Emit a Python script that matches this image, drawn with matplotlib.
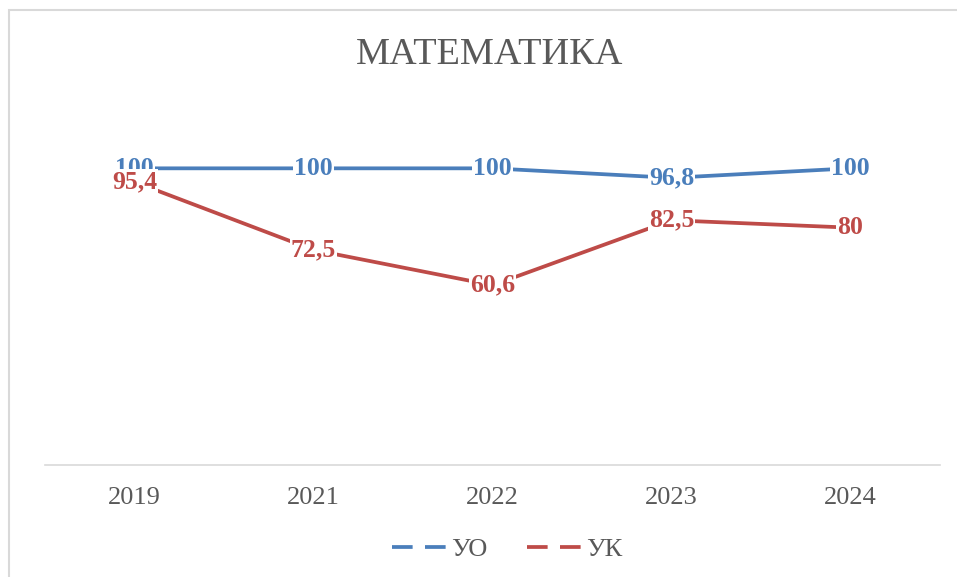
import matplotlib.pyplot as plt
from matplotlib.lines import Line2D
from matplotlib.patches import Rectangle

# data
years = ['2019', '2021', '2022', '2023', '2024']
uo = [100, 100, 100, 96.8, 100]
uk = [95.4, 72.5, 60.6, 82.5, 80]
uo_labels = ['100', '100', '100', '96,8', '100']
uk_labels = ['95,4', '72,5', '60,6', '82,5', '80']

blue = '#4A7EBB'
red = '#BE4B48'
grey = '#595959'

plt.rcParams['font.family'] = ['Liberation Serif', 'DejaVu Serif']

fig = plt.figure(figsize=(9.57, 5.77), dpi=100)
# the chart frame (only top and left edges show in the crop)
fig.patches.append(Rectangle((9 / 957, -0.05), 1.1, 1 - 10 / 577 + 0.05,
                             transform=fig.transFigure, fill=False,
                             edgecolor='#D9D9D9', linewidth=1.5))

ax = fig.add_axes([45 / 957, (577 - 465) / 577, (940 - 45) / 957, (465 - 109) / 577])
x = list(range(len(years)))
ax.plot(x, uo, color=blue, linewidth=2.7, solid_capstyle='butt', zorder=2)
ax.plot(x, uk, color=red, linewidth=2.7, solid_capstyle='butt', zorder=2)

# data labels sit on the points with a white box behind them
for xi, v, t in zip(x, uo, uo_labels):
    ax.text(xi, v, t, ha='center', va='center', color=blue, fontsize=18.5, fontweight='bold',
            bbox=dict(facecolor='white', edgecolor='none', pad=1.0), zorder=3)
for xi, v, t in zip(x, uk, uk_labels):
    ax.text(xi, v, t, ha='center', va='center', color=red, fontsize=18.5, fontweight='bold',
            bbox=dict(facecolor='white', edgecolor='none', pad=1.0), zorder=4)

ax.set_xlim(-0.5, 4.5)
ax.set_ylim(0, 120)
ax.set_xticks(x)
ax.set_xticklabels(years, fontsize=19, color=grey)
ax.set_yticks([])
ax.tick_params(axis='x', length=0, pad=16)
for s in ['top', 'right', 'left']:
    ax.spines[s].set_visible(False)
ax.spines['bottom'].set_color('#D9D9D9')
ax.spines['bottom'].set_linewidth(1.2)

fig.text(490 / 957, 1 - 55 / 577, 'МАТЕМАТИКА', ha='center', va='center', fontsize=27.5, color=grey)

handles = [Line2D([0], [0], color=blue, linewidth=2.7, linestyle=(0, (5.5, 3.3))),
           Line2D([0], [0], color=red, linewidth=2.7, linestyle=(0, (5.5, 3.3)))]
fig.legend(handles, ['УО', 'УК'], loc='center', bbox_to_anchor=(507 / 957, 1 - 549 / 577),
           ncol=2, frameon=False, fontsize=19, labelcolor=grey, handlelength=2.1,
           handletextpad=0.15, columnspacing=1.5)

plt.savefig('out.png', dpi=100)
